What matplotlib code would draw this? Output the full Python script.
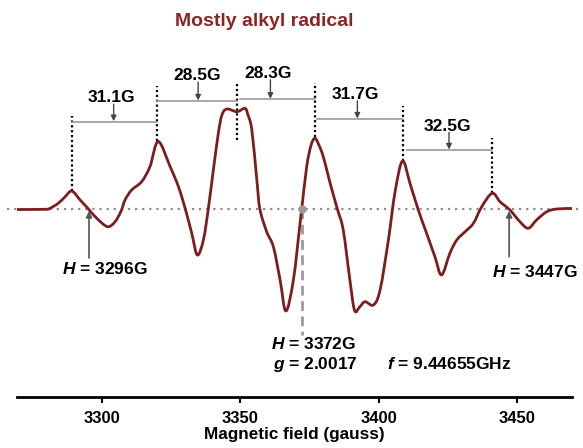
"""EPR spectrum of a mostly alkyl radical, with hyperfine splitting labels."""

import matplotlib

matplotlib.use("Agg")
import matplotlib.pyplot as plt
from matplotlib.patches import PathPatch
from matplotlib.path import Path

plt.rcParams["font.family"] = ["Liberation Sans", "DejaVu Sans"]
plt.rcParams["mathtext.fontset"] = "custom"
plt.rcParams["mathtext.it"] = "Liberation Sans:italic:bold"
plt.rcParams["mathtext.rm"] = "Liberation Sans:bold"

CURVE = "#7b1e1e"

# spectrum (gauss, signal in arbitrary units)
field = [
    3269.4, 3279.5, 3281.3, 3284.3, 3286.8, 3289.2, 3292.2, 3295.2, 3298.2, 3302.1,
    3304.8, 3307.0, 3308.4, 3310.8, 3314.4, 3317.4, 3320.4, 3324.7, 3327.7, 3330.1,
    3332.5, 3334.5, 3336.7, 3338.5, 3340.3, 3342.1, 3343.4, 3345.2, 3348.8, 3351.7,
    3352.8, 3354.2, 3356.0, 3357.1, 3359.6, 3362.0, 3364.4, 3366.5, 3369.2, 3371.6,
    3372.2, 3374.0, 3375.6, 3377.0, 3378.4, 3380.0, 3382.4, 3385.1, 3387.2, 3389.6,
    3391.3, 3393.2, 3395.1, 3398.1, 3400.5, 3403.5, 3405.9, 3408.6, 3411.3, 3414.3,
    3417.3, 3420.3, 3422.7, 3425.7, 3428.2, 3431.2, 3434.2, 3437.2, 3441.0, 3443.8,
    3447.4, 3451.0, 3454.0, 3457.0, 3460.7, 3464.3, 3469.8,
]
signal = [
    0, 0.2, 1.2, 6.2, 12.8, 18.5, 9.5, 0.5, -8.8, -17.2,
    -12.2, -1.5, 9.5, 19.5, 27.8, 42.8, 68, 42.8, 22.8, 1.2,
    -23.8, -45.5, -30.5, 1.2, 39.5, 76.2, 94.5, 100.5, 97.8, 101.2,
    94.5, 79.5, 29.5, 0.5, -22.5, -37.5, -70.5, -101.5, -70.5, -13.8,
    0.2, 42.8, 64.5, 71.2, 64.5, 52.8, 27, 0.2, -20.5, -70.5,
    -101, -97.2, -92.2, -95.5, -80.5, -30.5, 17.5, 48.5, 26.2, -0.5,
    -23.8, -47.2, -65.5, -43.8, -30.5, -22.2, -13.8, 2.8, 16.2, 7.8,
    -0.5, -12.2, -18.8, -10.5, -2.2, 0.5, 1.0,
]

# dotted markers on the hyperfine lines
line_pos = [3289.4, 3320.1, 3348.7, 3377.0, 3408.7, 3441.0]
line_top = [93.5, 123.5, 125.2, 126.8, 103.5, 71.2]
line_bottom = [18.5, 68.8, 69.5, 72.2, 48.5, 16.2]

# splitting brackets between neighbouring lines
split_labels = ["31.1G", "28.5G", "28.3G", "31.7G", "32.5G"]
split_start = [3289.4, 3320.1, 3349.9, 3377.8, 3410.1]
split_end = [3320.1, 3348.7, 3377.0, 3408.7, 3441.0]
split_level = [87.8, 108.5, 110.2, 90.5, 59.5]
split_label_x = [3303.6, 3334.3, 3360.1, 3391.7, 3424.8]
split_label_y = [111.8, 133.8, 136.2, 115.2, 83.5]
split_arrow_x = [3304.3, 3334.8, 3360.9, 3392.3, 3425.4]


def smooth_path(xs, ys):
    # Catmull-Rom through the read points, drawn as cubic Bezier segments
    pts = list(zip(xs, ys))
    verts = [pts[0]]
    codes = [Path.MOVETO]
    for i in range(len(pts) - 1):
        p0 = pts[max(i - 1, 0)]
        p1, p2 = pts[i], pts[i + 1]
        p3 = pts[min(i + 2, len(pts) - 1)]
        c1 = (p1[0] + (p2[0] - p0[0]) / 6, p1[1] + (p2[1] - p0[1]) / 6)
        c2 = (p2[0] - (p3[0] - p1[0]) / 6, p2[1] - (p3[1] - p1[1]) / 6)
        verts += [c1, c2, p2]
        codes += [Path.CURVE4] * 3
    return Path(verts, codes)


fig = plt.figure(figsize=(5.83, 4.48), dpi=100)
ax = fig.add_axes([17 / 583, 51.3 / 448, 555 / 583, 396.7 / 448])
ax.set_xlim(3269.4, 3469.8)
ax.set_ylim(-187.2, 209.5)

ax.axhline(0, xmin=-0.018, xmax=1.02, color="#8a8a8a", lw=1.6,
           ls=(0, (1, 2.2)), clip_on=False, zorder=1)
ax.add_patch(PathPatch(smooth_path(field, signal), facecolor="none", edgecolor=CURVE,
                       lw=2.0, capstyle="round", joinstyle="round", zorder=3))

for x, top, bot in zip(line_pos, line_top, line_bottom):
    ax.plot([x, x], [bot, top], color="black", lw=1.6, ls=(0, (1, 1.2)), zorder=2)

for lab, x0, x1, lev, lx, ly, axx in zip(split_labels, split_start, split_end, split_level,
                                         split_label_x, split_label_y, split_arrow_x):
    ax.plot([x0, x1], [lev, lev], color="#9a9a9a", lw=1.2, zorder=2)
    ax.text(lx, ly, lab, ha="center", va="center", fontsize=12.5, fontweight="bold")
    ax.annotate("", xy=(axx, lev + 0.5), xytext=(axx, ly - 6.5),
                arrowprops=dict(arrowstyle="-|>", color="#444444", lw=1, mutation_scale=8,
                                shrinkA=0, shrinkB=0))

# outer line positions
ax.annotate("", xy=(3295.4, -1.5), xytext=(3295.4, -48.5),
            arrowprops=dict(arrowstyle="-|>", color="#555555", lw=1.2, mutation_scale=9,
                            shrinkA=0, shrinkB=0))
ax.text(3301.2, -60, r"$H$ = 3296G", ha="center", va="center", fontsize=12.5, fontweight="bold")
ax.annotate("", xy=(3447.1, -1.5), xytext=(3447.1, -47.2),
            arrowprops=dict(arrowstyle="-|>", color="#555555", lw=1.2, mutation_scale=9,
                            shrinkA=0, shrinkB=0))
ax.text(3456.4, -62.8, r"$H$ = 3447G", ha="center", va="center", fontsize=12.5,
        fontweight="bold", clip_on=False)

# centre of the spectrum
ax.plot([3372.3, 3372.3], [0, -125.5], color="#9a9a9a", lw=2, ls=(0, (3.5, 2)), zorder=2)
ax.plot([3372.3], [0], "o", color="#9a9a9a", ms=5, zorder=4)
ax.text(3376.4, -134.8, r"$H$ = 3372G", ha="center", va="center", fontsize=12.5, fontweight="bold")
ax.text(3377.1, -154.8, r"$g$ = 2.0017", ha="center", va="center", fontsize=12.5, fontweight="bold")
ax.text(3425.4, -154.8, r"$f$ = 9.44655GHz", ha="center", va="center", fontsize=12.5,
        fontweight="bold")

fig.text(263.8 / 583, 1 - 21.6 / 448, "Mostly alkyl radical", ha="center", va="center",
         fontsize=14, fontweight="bold", color="#8b2525")

for side in ["left", "right", "top"]:
    ax.spines[side].set_visible(False)
ax.spines["bottom"].set_linewidth(2)
ax.set_yticks([])
ax.set_xticks([3300, 3350, 3400, 3450])
ax.tick_params(axis="x", direction="out", length=4, width=1.5, pad=6, labelsize=12)
for t in ax.get_xticklabels():
    t.set_fontweight("bold")
ax.set_xlabel("Magnetic field (gauss)", fontsize=12.3, fontweight="bold", labelpad=1)
ax.patch.set_visible(False)

fig.savefig("out.png", dpi=100)
